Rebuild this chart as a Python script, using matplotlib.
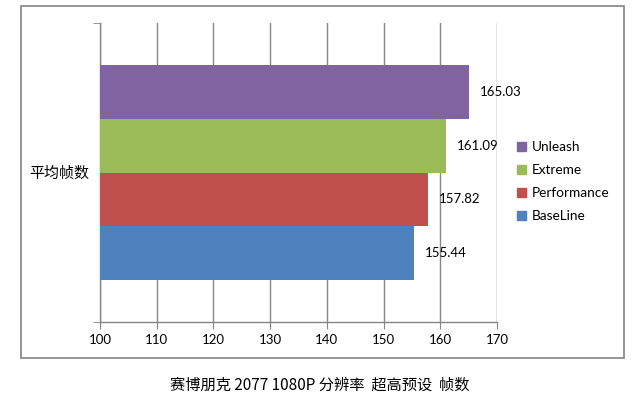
import matplotlib.pyplot as plt
from matplotlib.patches import Rectangle, Patch

plt.rcParams['font.family'] = ['Lato', 'Noto Sans CJK SC', 'DejaVu Sans']

series = ["BaseLine", "Performance", "Extreme", "Unleash"]
values = [155.44, 157.82, 161.09, 165.03]
colors = ["#4F81BD", "#C0504D", "#9BBB59", "#8064A2"]
category = "平均帧数"
xticks = [100, 110, 120, 130, 140, 150, 160, 170]
title = "赛博朋克 2077 1080P 分辨率  超高预设  帧数"

W, H = 640, 407
fig = plt.figure(figsize=(W / 100, H / 100), dpi=100)
ax = fig.add_axes([100 / W, 1 - 322 / H, 397 / W, 299 / H])

grey = "#868686"
h = 0.18
for i, (name, v, c) in enumerate(zip(series, values, colors)):
    y = (i - 1.5) * h
    ax.barh(y, v - 100, left=100, height=h, color=c, zorder=3)
    ax.text(v + 1.9, y, f"{v:.2f}", va="center", ha="left", fontsize=9.5, zorder=4)

ax.set_xlim(100, 170)
ax.set_ylim(-0.5, 0.5)
ax.set_xticks(xticks)
ax.set_xticklabels([str(t) for t in xticks], fontsize=9.5)
ax.tick_params(axis="x", direction="out", length=5, color=grey, pad=4)
ax.set_yticks([0])
ax.set_yticklabels([category], fontsize=10.8)
ax.tick_params(axis="y", length=0, pad=8)
ax.set_yticks([-0.5, 0.5], minor=True)
ax.tick_params(axis="y", which="minor", direction="out", length=5, color=grey)
ax.grid(axis="x", color=grey, linewidth=1, zorder=0)
for s in ["top", "right"]:
    ax.spines[s].set_visible(False)
for s in ["left", "bottom"]:
    ax.spines[s].set_color(grey)
    ax.spines[s].set_linewidth(1)

handles = [Patch(color=c, label=n) for n, c in zip(series, colors)][::-1]
fig.legend(handles=handles, loc="center left", bbox_to_anchor=(505 / W, 1 - 181.5 / H),
           frameon=False, fontsize=9.8, handlelength=0.65, handleheight=0.65,
           handletextpad=0.45, labelspacing=0.8)

fig.patches.append(Rectangle((21 / W, 1 - 358 / H), 603 / W, 352 / H,
                             transform=fig.transFigure, fill=False,
                             edgecolor="#8c8c8c", linewidth=1.3))

fig.text(0.5, 1 - 385 / H, title, ha="center", va="center", fontsize=11,
         family=["Noto Sans CJK SC", "DejaVu Sans"])

fig.savefig("out.png", dpi=100)
